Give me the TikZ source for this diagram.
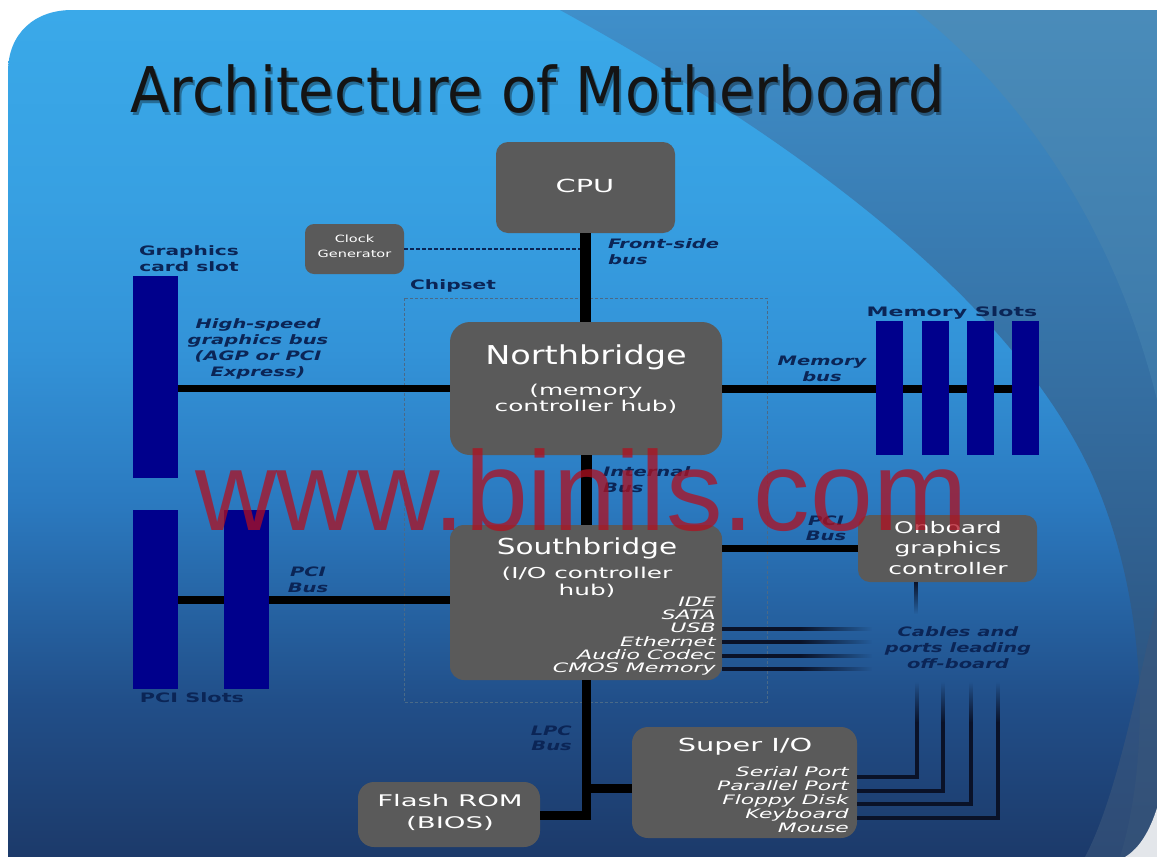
\documentclass[tikz,border=0pt]{standalone}
\usepackage{fontspec}
\setmainfont{DejaVu Sans}
\setsansfont{DejaVu Sans}
\newfontfamily\wmfont{Liberation Sans}
\usepackage{graphicx}
\usetikzlibrary{fadings}
\definecolor{bgtop}{HTML}{3AA9E9}
\definecolor{bgc5}{HTML}{37A0E2}
\definecolor{bgc4}{HTML}{3393D8}
\definecolor{bgc3}{HTML}{2B7AC0}
\definecolor{bgc2}{HTML}{214E88}
\definecolor{bgbot}{HTML}{1C3A6A}
\definecolor{bandAtop}{HTML}{3F8FCA}
\definecolor{bandAbot}{HTML}{28466F}
\definecolor{bandBtop}{HTML}{4A8CBA}
\definecolor{bandBbot}{HTML}{3C78A8}
\definecolor{bandC}{HTML}{3B577C}
\definecolor{cornerw}{HTML}{E3E6EA}
\definecolor{boxgray}{HTML}{5A5A5A}
\definecolor{slotblue}{HTML}{00008C}
\definecolor{labnavy}{HTML}{0B2556}
\definecolor{cablec}{HTML}{0A1228}
\definecolor{wmred}{HTML}{B01020}
\definecolor{chipline}{HTML}{4A6A88}
\pgfdeclareverticalshading{slidebg}{100bp}{color(0bp)=(bgbot); color(25bp)=(bgbot); color(34bp)=(bgc2); color(46bp)=(bgc3); color(55bp)=(bgc4); color(64bp)=(bgc5); color(75bp)=(bgtop); color(100bp)=(bgtop)}
\newcommand\SX[2]{\scalebox{#1}[1]{#2}}
\tikzset{
  chipbox/.style={rectangle, fill=boxgray, draw=none, rounded corners=12pt, inner sep=0pt},
  slotbox/.style={rectangle, fill=slotblue, draw=none, inner sep=0pt},
  wtext/.style={text=white, inner sep=0pt, align=center},
  navytext/.style={text=labnavy, inner sep=0pt, align=center, font=\fontsize{13}{16}\selectfont\bfseries},
  itlabel/.style={text=labnavy, inner sep=0pt, align=center, font=\fontsize{13}{16}\selectfont\bfseries\itshape},
  busline/.style={draw=black, line width=7.5pt},
  thickbus/.style={draw=black, line width=11pt},
  lpcbus/.style={draw=black, line width=9pt},
  cable/.style={draw=cablec, line width=4.5pt},
}
\begin{document}
\begin{tikzpicture}[x=1pt,y=-1pt]
\useasboundingbox (0,0) rectangle (1157,857);
\fill[white] (0,0) rectangle (1157,857);
% slide background
\shade[shading=slidebg] (8,857) -- (8,72) .. controls (8,34) and (34,10) .. (72,10) -- (1157,10) -- (1157,857) -- cycle;
\shade[top color=bandAtop, bottom color=bandAbot] (560,10) .. controls (760,120) and (1000,280) .. (1090,470) .. controls (1150,600) and (1150,760) .. (1120,857) -- (1157,857) -- (1157,10) -- cycle;
\shade[top color=bandBtop, bottom color=bandBbot] (915,10) .. controls (1040,110) and (1120,250) .. (1157,400) -- (1157,10) -- cycle;
\fill[bandC, opacity=0.6] (1157,600) .. controls (1135,700) and (1115,800) .. (1085,857) -- (1157,857) -- cycle;
\fill[cornerw] (1157,808) .. controls (1150,830) and (1140,848) .. (1125,857) -- (1157,857) -- cycle;

% title
\node[anchor=base west, inner sep=0pt, text=black, opacity=0.35, font=\fontsize{63}{63}\selectfont] (titleshadow) at (132,115) {\SX{0.915}{Architecture of Motherboard}};
\node[anchor=base west, inner sep=0pt, text=black!92, font=\fontsize{63}{63}\selectfont] (title) at (130,112) {\SX{0.915}{Architecture of Motherboard}};

% chipset frame
\draw[chipline, line width=1pt, dash pattern=on 3pt off 2pt] (404,298) rectangle (767,702);
\node[navytext, anchor=west] (chipsetT) at (410,286) {\SX{1.55}{Chipset}};

% boxes
\node[chipbox, minimum width=179pt, minimum height=91pt] (cpu) at (585.5,187.5) {};
\node[chipbox, minimum width=99pt, minimum height=50pt, rounded corners=9pt] (clk) at (354.5,249) {};
\node[chipbox, minimum width=272pt, minimum height=133pt, rounded corners=20pt] (nb) at (586,388.5) {};
\node[chipbox, minimum width=272pt, minimum height=155pt, rounded corners=14pt] (sb) at (586,602.5) {};
\node[chipbox, minimum width=179pt, minimum height=67pt] (ogc) at (947.5,548.5) {};
\node[chipbox, minimum width=225pt, minimum height=111pt, rounded corners=16pt] (sio) at (744.5,782.5) {};
\node[chipbox, minimum width=182pt, minimum height=65pt, rounded corners=16pt] (flash) at (449,814.5) {};

% slots positions (drawn after buses)
\coordinate (gslotc) at (155.5,377);
\coordinate (pci1c) at (155.5,599.5);
\coordinate (pci2c) at (246,599.5);

% buses
\draw[dash pattern=on 4pt off 2pt, line width=1.5pt, draw=labnavy] (clk.east) -- (clk.east -| cpu.south);
\draw[thickbus] (cpu.south) -- (cpu.south |- nb.north);
\draw[thickbus] (nb.south) -- (nb.south |- sb.north);
\coordinate (gbusend) at (178,388.5);
\draw[busline] (nb.west) -- (gbusend);
\coordinate (pcibusend) at (178,600);
\draw[busline] (sb.west |- pcibusend) -- (pcibusend);
\coordinate (membusend) at (1012,389);
\draw[busline] (nb.east |- membusend) -- (membusend);
\draw[busline] (sb.east |- ogc.west) -- (ogc.west);
% LPC
\coordinate (lpcj) at (586,788);
\coordinate (lpcb) at (586,815);
\draw[lpcbus, line join=miter] (sb.south) -- (lpcb) -- (lpcb -| flash.east);
\draw[lpcbus] (lpcj) -- (lpcj -| sio.west);

% southbridge cables
\foreach \yy in {629,642,656,669}{
  \coordinate (sbc\yy) at (800,\yy);
  \draw[cable] (sbc\yy -| sb.east) -- (sbc\yy);
  \fill[cablec, path fading=east] (800,\yy-2.25) rectangle (872,\yy+2.25);
}
% onboard graphics down line
\coordinate (ogcd) at (916,614);
\fill[cablec, path fading=south] (913.75,582) rectangle (918.25,614);
% Super I/O cables
\foreach \yy/\xx in {777/917, 791/943, 804/971, 818/998}{
  \coordinate (sioc\xx) at (\xx,\yy);
  \draw[cable, line join=miter] (sioc\xx -| sio.east) -- (sioc\xx) -- (\xx,722);
  \fill[cablec, path fading=north] (\xx-2.25,682) rectangle (\xx+2.25,723);
}

% slots
\node[slotbox, minimum width=45pt, minimum height=202pt] (gslot) at (gslotc) {};
\node[slotbox, minimum width=45pt, minimum height=179pt] (pci1) at (pci1c) {};
\node[slotbox, minimum width=45pt, minimum height=179pt] (pci2) at (pci2c) {};
\node[slotbox, minimum width=27pt, minimum height=134pt] (mem1) at (889.5,388) {};
\node[slotbox, minimum width=27pt, minimum height=134pt] (mem2) at (935,388) {};
\node[slotbox, minimum width=27pt, minimum height=134pt] (mem3) at (980.5,388) {};
\node[slotbox, minimum width=27pt, minimum height=134pt] (mem4) at (1025.5,388) {};

% box texts
\node[wtext, font=\fontsize{18}{18}\selectfont] (cpuT) at (585,186) {\SX{1.6}{CPU}};
\node[wtext, font=\fontsize{10}{15}\selectfont] (clkT) at (354.5,246) {\SX{1.45}{Clock}\\\SX{1.45}{Generator}};
\node[wtext, font=\fontsize{26}{26}\selectfont] (nbT) at (586,357) {\SX{1.29}{Northbridge}};
\node[wtext, font=\fontsize{15}{16.5}\selectfont] (nbS) at (586,399) {\SX{1.65}{(memory}\\\SX{1.65}{controller hub)}};
\node[wtext, font=\fontsize{22}{22}\selectfont] (sbT) at (587,548) {\SX{1.34}{Southbridge}};
\node[wtext, font=\fontsize{15}{17}\selectfont] (sbS) at (587,582.5) {\SX{1.65}{(I/O controller}\\\SX{1.65}{hub)}};
\node[wtext, anchor=east, align=right, font=\fontsize{13}{13.3}\selectfont\itshape] (sbL) at (716,636) {\SX{1.7}{IDE}\\\SX{1.7}{SATA}\\\SX{1.7}{USB}\\\SX{1.7}{Ethernet}\\\SX{1.7}{Audio Codec}\\\SX{1.7}{CMOS Memory}};
\node[wtext, font=\fontsize{16}{20.5}\selectfont] (ogcT) at (948,548) {\SX{1.56}{Onboard}\\\SX{1.56}{graphics}\\\SX{1.56}{controller}};
\node[wtext, font=\fontsize{18}{18}\selectfont] (sioT) at (745,747) {\SX{1.6}{Super I/O}};
\node[wtext, anchor=east, align=right, font=\fontsize{13}{14}\selectfont\itshape] (sioL) at (849,800) {\SX{1.68}{Serial Port}\\\SX{1.68}{Parallel Port}\\\SX{1.68}{Floppy Disk}\\\SX{1.68}{Keyboard}\\\SX{1.68}{Mouse}};
\node[wtext, font=\fontsize{16}{22}\selectfont] (flashT) at (450,812) {\SX{1.72}{Flash ROM}\\\SX{1.72}{(BIOS)}};

% navy labels
\node[navytext] (gslotL) at (189,259) {\SX{1.55}{Graphics}\\\SX{1.55}{card slot}};
\node[navytext] (memL) at (952,313) {\SX{1.7}{Memory Slots}};
\node[navytext] (pciL) at (192,698) {\SX{1.6}{PCI Slots}};

% italic bus labels
\node[itlabel, anchor=west, align=left] (fsbL) at (608,251.5) {\SX{1.5}{Front-side}\\\SX{1.5}{bus}};
\node[itlabel] (agpL) at (258,349) {\SX{1.5}{High-speed}\\\SX{1.5}{graphics bus}\\\SX{1.5}{(AGP or PCI}\\\SX{1.5}{Express)}};
\node[itlabel] (membL) at (822,369) {\SX{1.5}{Memory}\\\SX{1.5}{bus}};
\node[itlabel, anchor=west, align=left] (intL) at (603,479.5) {\SX{1.5}{Internal}\\\SX{1.5}{Bus}};
\node[itlabel] (pcibL) at (308,580) {\SX{1.5}{PCI}\\\SX{1.5}{Bus}};
\node[itlabel, font=\fontsize{13}{15}\selectfont\bfseries\itshape] (pcib2L) at (826,528) {\SX{1.5}{PCI}\\\SX{1.5}{Bus}};
\node[itlabel] (cabL) at (958,648) {\SX{1.5}{Cables and}\\\SX{1.5}{ports leading}\\\SX{1.5}{off-board}};
\node[itlabel, anchor=east, align=right, font=\fontsize{13}{15}\selectfont\bfseries\itshape] (lpcL) at (572,738.5) {\SX{1.5}{LPC}\\\SX{1.5}{Bus}};

% watermark
\node[anchor=base west, inner sep=0pt, text=wmred, text opacity=0.75, font=\wmfont\fontsize{113}{113}\selectfont] (wm) at (195,530) {www.binils.com};
\end{tikzpicture}
\end{document}
